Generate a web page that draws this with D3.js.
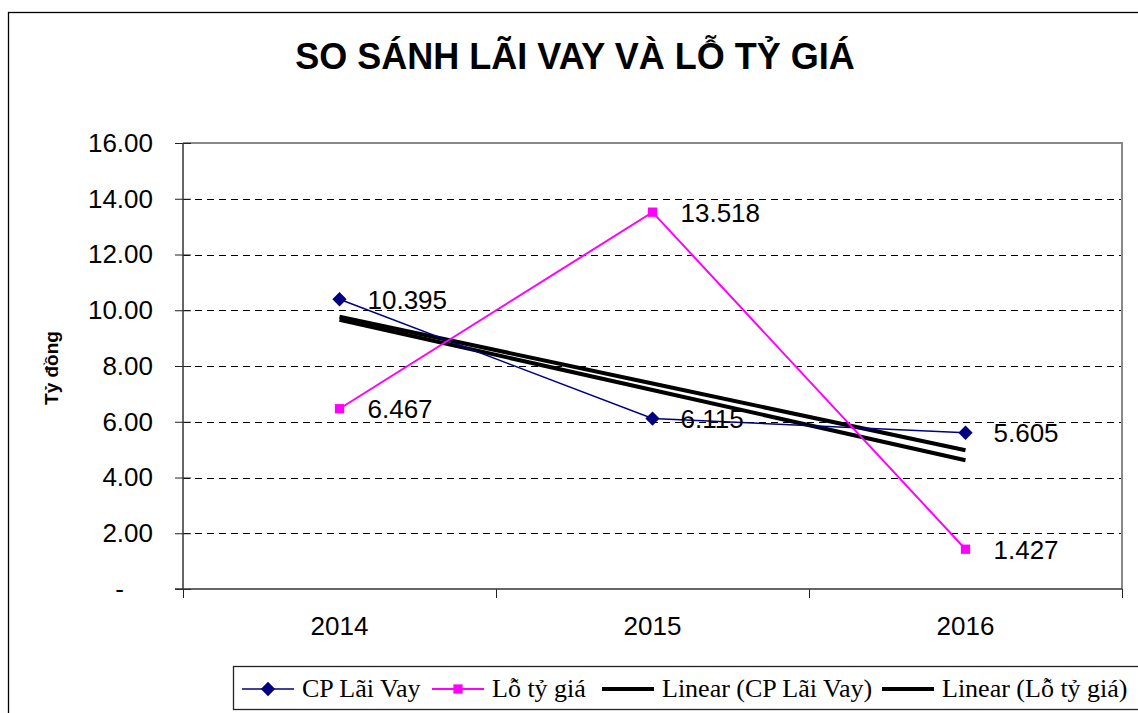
<!DOCTYPE html>
<html>
<head>
<meta charset="utf-8">
<script src="https://cdn.jsdelivr.net/npm/d3@7"></script>
<style>
  body { margin: 0; background: #fff; }
  svg { display: block; }
  .axis path { display: none; }
</style>
</head>
<body>
<div id="chart"></div>
<script>
// chart data
var years = ["2014", "2015", "2016"]
var laiVay = [10.395, 6.115, 5.605]
var loTyGia = [6.467, 13.518, 1.427]
var yTicks = [0, 2, 4, 6, 8, 10, 12, 14, 16]
var seriesNames = ["CP Lãi Vay", "Lỗ tỷ giá", "Linear (CP Lãi Vay)", "Linear (Lỗ tỷ giá)"]

var w = 1138
var h = 713
var plot = {left: 183, right: 1122, top: 143, bottom: 589}

var svg = d3.select("#chart").append("svg")
  .attr("width", w)
  .attr("height", h)

// outer chart border
svg.append("rect")
  .attr("x", 8.5).attr("y", 12.5)
  .attr("width", 1160).attr("height", 740)
  .attr("fill", "#fff")
  .attr("stroke", "#000")
  .attr("stroke-width", 1.3)

var x = d3.scaleBand().domain(years).range([plot.left, plot.right])
var xEdge = d3.scaleLinear().domain([0, years.length]).range([plot.left, plot.right])
var y = d3.scaleLinear().domain([0, 16]).range([plot.bottom, plot.top])
var cx = d => x(d) + x.bandwidth() / 2

// title
svg.append("text")
  .attr("x", 575).attr("y", 69)
  .attr("text-anchor", "middle")
  .style("font-family", "Liberation Sans, Arial, sans-serif")
  .style("font-weight", "bold")
  .style("font-size", "36px")
  .text("SO SÁNH LÃI VAY VÀ LỖ TỶ GIÁ")

// grid lines
svg.append("g").selectAll("line")
  .data(yTicks.filter(d => d > 0 && d < 16))
  .enter().append("line")
  .attr("x1", plot.left).attr("x2", plot.right)
  .attr("y1", d => Math.round(y(d)) + 0.5).attr("y2", d => Math.round(y(d)) + 0.5)
  .attr("stroke", "#000")
  .attr("stroke-dasharray", "7,5")

// plot frame top / right (gray)
svg.append("path")
  .attr("d", "M" + plot.left + "," + plot.top + "H" + plot.right + "V" + plot.bottom)
  .attr("fill", "none")
  .attr("stroke", "#888")
  .attr("stroke-width", 2)

// y axis
var yAxis = d3.axisLeft(y)
  .tickValues(yTicks)
  .tickSize(8)
  .tickPadding(22)
  .tickFormat(d => d === 0 ? "-" : d.toFixed(2))

var gy = svg.append("g")
  .attr("class", "axis")
  .attr("transform", "translate(" + plot.left + ",0)")
  .call(yAxis)
gy.selectAll(".tick line").attr("x1", 8).attr("stroke", "#222")
gy.selectAll(".tick text")
  .style("font-family", "Liberation Sans, Arial, sans-serif")
  .style("font-size", "26px")
  .attr("fill", "#000")
  .attr("dx", d => d === 0 ? -29 : 0)

// x axis: labels at centres, ticks at category edges
var gx = svg.append("g")
  .attr("class", "axis")
  .attr("transform", "translate(0," + plot.bottom + ")")
  .call(d3.axisBottom(x).tickSize(0).tickPadding(28))
gx.selectAll(".tick text")
  .style("font-family", "Liberation Sans, Arial, sans-serif")
  .style("font-size", "26px")
  .attr("fill", "#000")

svg.append("g")
  .attr("class", "axis")
  .attr("transform", "translate(0," + plot.bottom + ")")
  .call(d3.axisBottom(xEdge).ticks(years.length).tickSize(9).tickFormat(""))
  .selectAll(".tick line").attr("stroke", "#222")

// axis lines
svg.append("line")
  .attr("x1", plot.left).attr("x2", plot.left)
  .attr("y1", plot.top).attr("y2", plot.bottom)
  .attr("stroke", "#333").attr("stroke-width", 1.5)
svg.append("line")
  .attr("x1", plot.left - 8).attr("x2", plot.right)
  .attr("y1", plot.bottom).attr("y2", plot.bottom)
  .attr("stroke", "#333").attr("stroke-width", 1.5)

// y title
svg.append("text")
  .attr("transform", "translate(58,368) rotate(-90)")
  .attr("text-anchor", "middle")
  .style("font-family", "Liberation Sans, Arial, sans-serif")
  .style("font-weight", "bold")
  .style("font-size", "19px")
  .text("Tỷ đồng")

// linear trend lines (least squares over category index)
function trend(vals) {
  var xs = vals.map((v, i) => i + 1)
  var mx = d3.mean(xs), my = d3.mean(vals)
  var slope = d3.sum(xs, (xi, i) => (xi - mx) * (vals[i] - my)) / d3.sum(xs, xi => (xi - mx) * (xi - mx))
  return xs.map(xi => my + slope * (xi - mx))
}

var line = d3.line()
  .x((d, i) => cx(years[i]))
  .y(d => y(d))

;[trend(laiVay), trend(loTyGia)].forEach(function(t) {
  svg.append("path")
    .attr("d", line(t))
    .attr("fill", "none")
    .attr("stroke", "#000")
    .attr("stroke-width", 4)
})

svg.append("path")
  .attr("d", line(laiVay))
  .attr("fill", "none")
  .attr("stroke", "#000080")
  .attr("stroke-width", 1.5)

svg.append("path")
  .attr("d", line(loTyGia))
  .attr("fill", "none")
  .attr("stroke", "#ff00ff")
  .attr("stroke-width", 2)

var diamond = d3.symbol().type(d3.symbolDiamond2).size(130)
var square = d3.symbol().type(d3.symbolSquare2).size(110)

svg.append("g").selectAll("path")
  .data(laiVay).enter().append("path")
  .attr("d", diamond)
  .attr("transform", (d, i) => "translate(" + cx(years[i]) + "," + y(d) + ")")
  .attr("fill", "#000080")

svg.append("g").selectAll("path")
  .data(loTyGia).enter().append("path")
  .attr("d", square)
  .attr("transform", (d, i) => "translate(" + cx(years[i]) + "," + y(d) + ")")
  .attr("fill", "#ff00ff")

// data labels
;[laiVay, loTyGia].forEach(function(vals) {
  svg.append("g").selectAll("text")
    .data(vals).enter().append("text")
    .attr("x", (d, i) => cx(years[i]) + 28)
    .attr("y", d => y(d))
    .attr("dy", "0.36em")
    .style("font-family", "Liberation Sans, Arial, sans-serif")
    .style("font-size", "26px")
    .text(d => d.toFixed(3))
})

// legend
var legend = svg.append("g")
svg.append("rect")
  .attr("x", 233.5).attr("y", 666.5)
  .attr("width", 940).attr("height", 43)
  .attr("fill", "none")
  .attr("stroke", "#222")
  .attr("stroke-width", 1.3)

var sampleX = [242, 432, 602, 882]
var textX = [302, 492, 662, 942]
var legendY = 689
var styles = [
  {color: "#000080", width: 1.5, marker: diamond},
  {color: "#ff00ff", width: 2, marker: square},
  {color: "#000", width: 4},
  {color: "#000", width: 4}
]

seriesNames.forEach(function(name, i) {
  var s = styles[i]
  legend.append("line")
    .attr("x1", sampleX[i]).attr("x2", sampleX[i] + 52)
    .attr("y1", legendY).attr("y2", legendY)
    .attr("stroke", s.color)
    .attr("stroke-width", s.width)
  if (s.marker) {
    legend.append("path")
      .attr("d", s.marker)
      .attr("transform", "translate(" + (sampleX[i] + 26) + "," + legendY + ")")
      .attr("fill", s.color)
  }
  legend.append("text")
    .attr("x", textX[i]).attr("y", 697)
    .style("font-family", "Liberation Serif, Times New Roman, serif")
    .style("font-size", "26px")
    .text(name)
})
</script>
</body>
</html>
